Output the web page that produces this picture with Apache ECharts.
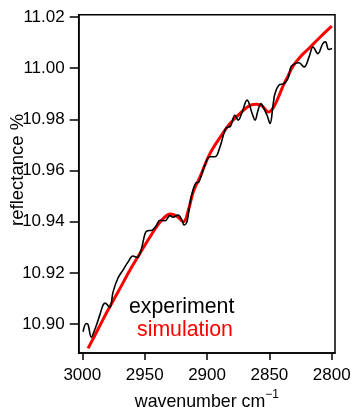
<!DOCTYPE html>
<html>
<head>
<meta charset="utf-8">
<script src="https://cdn.jsdelivr.net/npm/echarts@6/dist/echarts.min.js"></script>
<style>
html,body{margin:0;padding:0;background:#fff;}
#c{width:351px;height:407px;}
</style>
</head>
<body>
<div id="c"></div>
<script>
// experiment (black)
var expWavenumber = [2999.4,2996.8,2995.4,2992.8,2990.1,2986.0,2983.4,2981.8,2978.0,2975.4,2971.4,2967.4,2963.4,2959.4,2956.1,2952.9,2949.8,2948.2,2944.1,2940.9,2937.7,2933.7,2929.7,2927.3,2923.3,2920.1,2918.5,2916.1,2913.7,2911.3,2908.9,2906.5,2901.7,2897.7,2893.6,2889.6,2885.6,2883.2,2881.6,2877.6,2875.1,2871.9,2867.9,2863.9,2861.5,2859.1,2856.7,2855.1,2851.9,2849.5,2847.1,2845.5,2842.3,2838.3,2835.1,2832.7,2830.3,2826.3,2822.2,2818.2,2815.0,2811.2,2807.2,2805.1,2802.4,2799.8];
var expReflectance = [10.8970,10.9002,10.8998,10.8949,10.8977,10.9035,10.9074,10.9082,10.9065,10.9125,10.9180,10.9211,10.9242,10.9266,10.9260,10.9289,10.9352,10.9364,10.9367,10.9383,10.9406,10.9404,10.9424,10.9418,10.9426,10.9406,10.9387,10.9400,10.9473,10.9523,10.9551,10.9556,10.9621,10.9654,10.9654,10.9693,10.9758,10.9770,10.9771,10.9816,10.9797,10.9828,10.9875,10.9824,10.9797,10.9836,10.9862,10.9849,10.9816,10.9784,10.9855,10.9901,10.9934,10.9940,10.9960,11.0005,11.0016,11.0021,11.0005,11.0044,11.0083,11.0057,11.0096,11.0103,11.0073,11.0077];
// simulation (red)
var simWavenumber = [2995.4,2987.4,2979.4,2971.4,2961.8,2953.7,2945.7,2940.1,2935.0,2929.7,2924.3,2919.0,2915.0,2911.0,2905.6,2897.6,2885.6,2881.6,2873.5,2865.5,2860.1,2855.9,2850.8,2847.1,2843.1,2839.1,2835.1,2831.1,2825.5,2818.2,2809.4,2800.0];
var simReflectance = [10.8905,10.8980,10.9055,10.9125,10.9211,10.9277,10.9341,10.9383,10.9413,10.9430,10.9422,10.9400,10.9445,10.9517,10.9575,10.9667,10.9758,10.9784,10.9823,10.9855,10.9859,10.9852,10.9829,10.9844,10.9883,10.9930,10.9969,11.0008,11.0043,11.0078,11.0121,11.0164];
var xTicks = [3000,2950,2900,2850,2800];
var yTicks = [10.90,10.92,10.94,10.96,10.98,11.00,11.02];
var seriesNames = ['experiment','simulation'];

function zip(a,b){return a.map(function(v,i){return [v,b[i]];});}

var chart = echarts.init(document.getElementById('c'), null, {renderer:'canvas'});
var font = 'Liberation Sans, Arial, sans-serif';
chart.setOption({
  animation:false,
  backgroundColor:'#fff',
  grid:{left:78.7,right:16,top:14.7,bottom:54,containLabel:false,outerBoundsMode:'none',show:true,borderColor:'#000',borderWidth:1.5,backgroundColor:'transparent'},
  legend:[
    {data:[{name:seriesNames[0],textStyle:{color:'#000'}}],icon:'none',itemWidth:0,itemHeight:0,left:124,top:297,padding:0,textStyle:{fontSize:21.3,fontFamily:font},selectedMode:false},
    {data:[{name:seriesNames[1],textStyle:{color:'#ff0000'}}],icon:'none',itemWidth:0,itemHeight:0,left:132,top:320,padding:0,textStyle:{fontSize:21.3,fontFamily:font},selectedMode:false}
  ],
  xAxis:{
    type:'value',inverse:true,min:2797.4,max:3002.9,
    name:'{a|wavenumber cm}{b|\u22121}',nameLocation:'middle',nameGap:29,
    nameTextStyle:{rich:{a:{fontSize:17.8,fontFamily:font,color:'#000',lineHeight:27},b:{fontSize:12,fontFamily:font,color:'#000',verticalAlign:'top',lineHeight:12}}},
    axisLine:{show:true,onZero:false,lineStyle:{color:'#000',width:1.5}},
    axisTick:{show:true,inside:false,length:7,lineStyle:{color:'#000',width:1.5},customValues:xTicks},
    axisLabel:{show:true,margin:14,fontSize:17,fontFamily:font,color:'#000',customValues:xTicks,formatter:function(v){return String(Math.round(v));}},
    splitLine:{show:false}
  },
  yAxis:{
    type:'value',min:10.8887,max:11.0209,
    name:'reflectance %',nameLocation:'middle',nameGap:51,nameMoveOverlap:false,
    nameTextStyle:{fontSize:18.5,fontFamily:font,color:'#000',padding:[0,0,0,28]},
    axisLine:{show:true,onZero:false,lineStyle:{color:'#000',width:1.5}},
    axisTick:{show:true,inside:false,length:9,lineStyle:{color:'#000',width:1.5},customValues:yTicks},
    axisLabel:{show:true,margin:14,fontSize:17,fontFamily:font,color:'#000',customValues:yTicks,formatter:function(v){return v.toFixed(2);}},
    splitLine:{show:false}
  },
  series:[
    {name:seriesNames[0],type:'line',data:zip(expWavenumber,expReflectance),smooth:0.4,showSymbol:false,symbol:'none',lineStyle:{color:'#000',width:1.6},itemStyle:{color:'#000'},z:3},
    {name:seriesNames[1],type:'line',data:zip(simWavenumber,simReflectance),smooth:0.4,showSymbol:false,symbol:'none',lineStyle:{color:'#ff0000',width:3},itemStyle:{color:'#ff0000'},z:2}
  ]
});
</script>
</body>
</html>
